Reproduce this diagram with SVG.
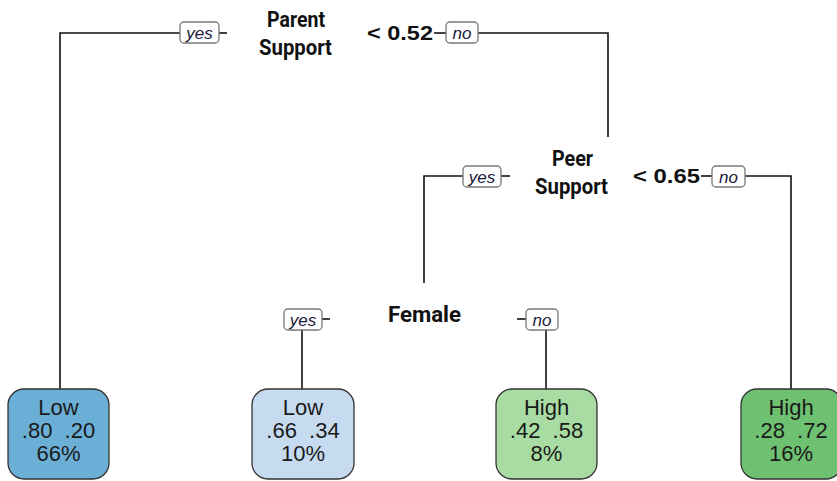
<svg xmlns="http://www.w3.org/2000/svg" width="837" height="481" viewBox="0 0 837 481">
<style>
.edge{fill:none;stroke:#111;stroke-width:1.6}
.lab rect{fill:#fff;stroke:#777;stroke-width:1.3}
.lab text{font-family:"Liberation Sans",Arial,sans-serif;font-style:italic;font-size:17px;fill:#1a1a3a;text-anchor:middle}
.var{font-family:"Roboto","Liberation Sans",sans-serif;font-weight:bold;font-size:21.5px;fill:#111}
.thr{font-family:"Liberation Sans",Arial,sans-serif;font-weight:bold;font-size:21px;fill:#111}
.leaf rect{stroke:#333;stroke-width:1.3}
.leaf text{font-family:"Liberation Sans",Arial,sans-serif;font-size:22px;fill:#1a1a1a;text-anchor:middle;white-space:pre}
</style>
<g id="connectors">
<polyline class="edge" points="180,33 60,33 60,389"/>
<line class="edge" x1="219" y1="33" x2="227" y2="33"/>
<line class="edge" x1="434" y1="33" x2="446" y2="33"/>
<polyline class="edge" points="478,33 608,33 608,137"/>
<polyline class="edge" points="463,176 424,176 424,283"/>
<line class="edge" x1="501" y1="176" x2="510" y2="176"/>
<line class="edge" x1="701" y1="176" x2="712" y2="176"/>
<polyline class="edge" points="745,176 791,176 791,389"/>
<line class="edge" x1="322" y1="319" x2="330" y2="319"/>
<line class="edge" x1="302" y1="330" x2="302" y2="389"/>
<line class="edge" x1="517" y1="319" x2="526" y2="319"/>
<line class="edge" x1="546" y1="330" x2="546" y2="389"/>
</g>
<g id="node-parent">
<text class="var" x="267" y="27" textLength="58" lengthAdjust="spacingAndGlyphs">Parent</text>
<text class="var" x="259" y="55" textLength="73" lengthAdjust="spacingAndGlyphs">Support</text>
<text class="thr" x="367" y="40" textLength="66" lengthAdjust="spacingAndGlyphs">&lt; 0.52</text>
<g class="lab"><rect x="180" y="22" width="39" height="21" rx="4"/><text x="199.5" y="38.5">yes</text></g>
<g class="lab"><rect x="446" y="22" width="32" height="21" rx="4"/><text x="462" y="38.5">no</text></g>
</g>
<g id="node-peer">
<text class="var" x="552" y="166" textLength="41" lengthAdjust="spacingAndGlyphs">Peer</text>
<text class="var" x="535" y="194" textLength="73" lengthAdjust="spacingAndGlyphs">Support</text>
<text class="thr" x="633" y="183" textLength="67" lengthAdjust="spacingAndGlyphs">&lt; 0.65</text>
<g class="lab"><rect x="463" y="166" width="38" height="21" rx="4"/><text x="482" y="182.5">yes</text></g>
<g class="lab"><rect x="712" y="166" width="33" height="21" rx="4"/><text x="728.5" y="182.5">no</text></g>
</g>
<g id="node-female">
<text class="var" x="388" y="322" textLength="73" lengthAdjust="spacingAndGlyphs">Female</text>
<g class="lab"><rect x="284" y="309" width="38" height="21" rx="4"/><text x="303" y="325.5">yes</text></g>
<g class="lab"><rect x="526" y="309" width="32" height="21" rx="4"/><text x="542" y="325.5">no</text></g>
</g>
<g id="leaf1" class="leaf">
<rect x="8" y="389" width="101" height="90" rx="16" fill="#6BAED6"/>
<text x="58.5" y="415">Low</text>
<text x="58.5" y="438">.80  .20</text>
<text x="58.5" y="461">66%</text>
</g>
<g id="leaf2" class="leaf">
<rect x="252" y="389" width="102" height="90" rx="16" fill="#C6DBEF"/>
<text x="303" y="415">Low</text>
<text x="303" y="438">.66  .34</text>
<text x="303" y="461">10%</text>
</g>
<g id="leaf3" class="leaf">
<rect x="496" y="389" width="101" height="90" rx="16" fill="#A8DCA2"/>
<text x="546.5" y="415">High</text>
<text x="546.5" y="438">.42  .58</text>
<text x="546.5" y="461">8%</text>
</g>
<g id="leaf4" class="leaf">
<rect x="741" y="389" width="101" height="90" rx="16" fill="#6DC171"/>
<text x="791" y="415">High</text>
<text x="791" y="438">.28  .72</text>
<text x="791" y="461">16%</text>
</g>
</svg>
